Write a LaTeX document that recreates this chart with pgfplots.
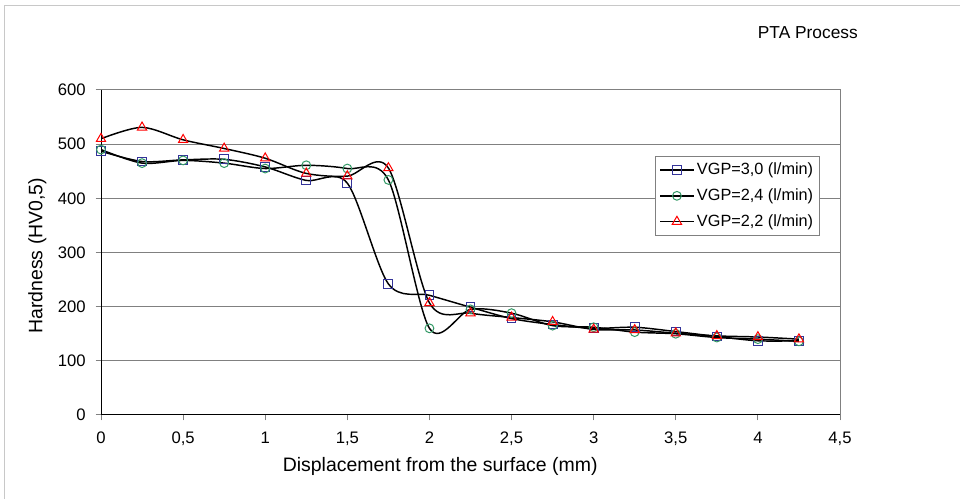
\documentclass[border=0pt]{standalone}
\usepackage{pgfplots}
\pgfplotsset{compat=1.18}
\usepackage{fontspec}
\setmainfont{Liberation Sans}
\definecolor{gridgray}{RGB}{128,128,128}
\definecolor{framegray}{RGB}{200,200,200}
\definecolor{sqblue}{RGB}{51,51,153}
\definecolor{cgreen}{RGB}{51,153,102}
\definecolor{tred}{RGB}{255,0,0}
\begin{document}
\begin{tikzpicture}
\path[use as bounding box] (0pt,0pt) rectangle (720pt,374.25pt);
\draw[framegray, line width=0.75pt] (3pt,0pt) -- (3pt,369.75pt) -- (720pt,369.75pt);
\node[anchor=east, inner sep=0pt, font=\fontsize{13}{15}\selectfont] at (643.5pt,349.5pt) {PTA Process};
\begin{axis}[
  at={(75.75pt,63pt)}, anchor=south west, scale only axis,
  width=554.25pt, height=243.75pt,
  xmin=0, xmax=4.5, ymin=0, ymax=600,
  xtick={0,0.5,1,1.5,2,2.5,3,3.5,4,4.5},
  xticklabels={0,{0,5},1,{1,5},2,{2,5},3,{3,5},4,{4,5}},
  ytick={0,100,200,300,400,500,600},
  /pgf/number format/assume math mode=true,
  ymajorgrids, grid style={gridgray, line width=0.75pt},
  axis line style={gridgray, line width=0.75pt},
  xtick pos=bottom, ytick pos=left, tick align=outside,
  major tick length=4pt,
  tick style={gridgray, line width=0.75pt},
  ticklabel style={font=\fontsize{12.5}{14}\selectfont, text=black},
  xticklabel style={yshift=-5pt},
  yticklabel style={xshift=-4pt},
  xlabel={Displacement from the surface (mm)},
  ylabel={Hardness (HV0,5)},
  label style={font=\fontsize{14.6}{17}\selectfont},
  xlabel style={at={(rel axis cs:0.459,-0.157)}, anchor=center},
  ylabel style={at={(rel axis cs:-0.086,0.49)}, anchor=center},
  legend style={at={(0.7497,0.797)}, anchor=north west, draw=gridgray, line width=0.75pt,
    font=\fontsize{12.2}{14}\selectfont, row sep=5pt, inner xsep=3pt, inner ysep=3pt},
  legend cell align=left,
  legend image code/.code={\draw[mark repeat=2,mark phase=2] plot coordinates {(0pt,0pt)(12.5pt,0pt)(25pt,0pt)};},
  every axis plot/.append style={black, line width=1.1pt, smooth, tension=0.5},
]
\addplot[mark=square, mark size=3.3pt, mark options={draw=sqblue, fill=white, line width=0.75pt}]
 coordinates {(0,487)(0.25,468)(0.5,471)(0.75,472)(1,458)(1.25,433)(1.5,428)(1.75,242)(2,221)(2.25,199)(2.5,178)(2.75,167)(3,160)(3.25,162)(3.5,154)(3.75,145)(4,137)(4.25,137)};
\addlegendentry{VGP=3,0 (l/min)}
\addplot[mark=o, mark size=3.3pt, mark options={draw=cgreen, fill=white, line width=0.75pt}]
 coordinates {(0,490)(0.25,465)(0.5,470)(0.75,465)(1,455)(1.25,461)(1.5,455)(1.75,434)(2,160)(2.25,195)(2.5,188)(2.75,165)(3,162)(3.25,153)(3.5,150)(3.75,143)(4,140)(4.25,136)};
\addlegendentry{VGP=2,4 (l/min)}
\addplot[mark=triangle, mark size=4pt, mark options={draw=tred, fill=white, line width=0.75pt}]
 coordinates {(0,510)(0.25,531)(0.5,508)(0.75,492)(1,474)(1.25,446)(1.5,441)(1.75,456)(2,207)(2.25,188)(2.5,180)(2.75,172)(3,158)(3.25,157)(3.5,151)(3.75,146)(4,144)(4.25,140)};
\addlegendentry{VGP=2,2 (l/min)}
\draw[black, line width=1pt] (rel axis cs:0,1) -- (rel axis cs:0,0) -- (rel axis cs:1,0);
\end{axis}
\end{tikzpicture}
\end{document}
